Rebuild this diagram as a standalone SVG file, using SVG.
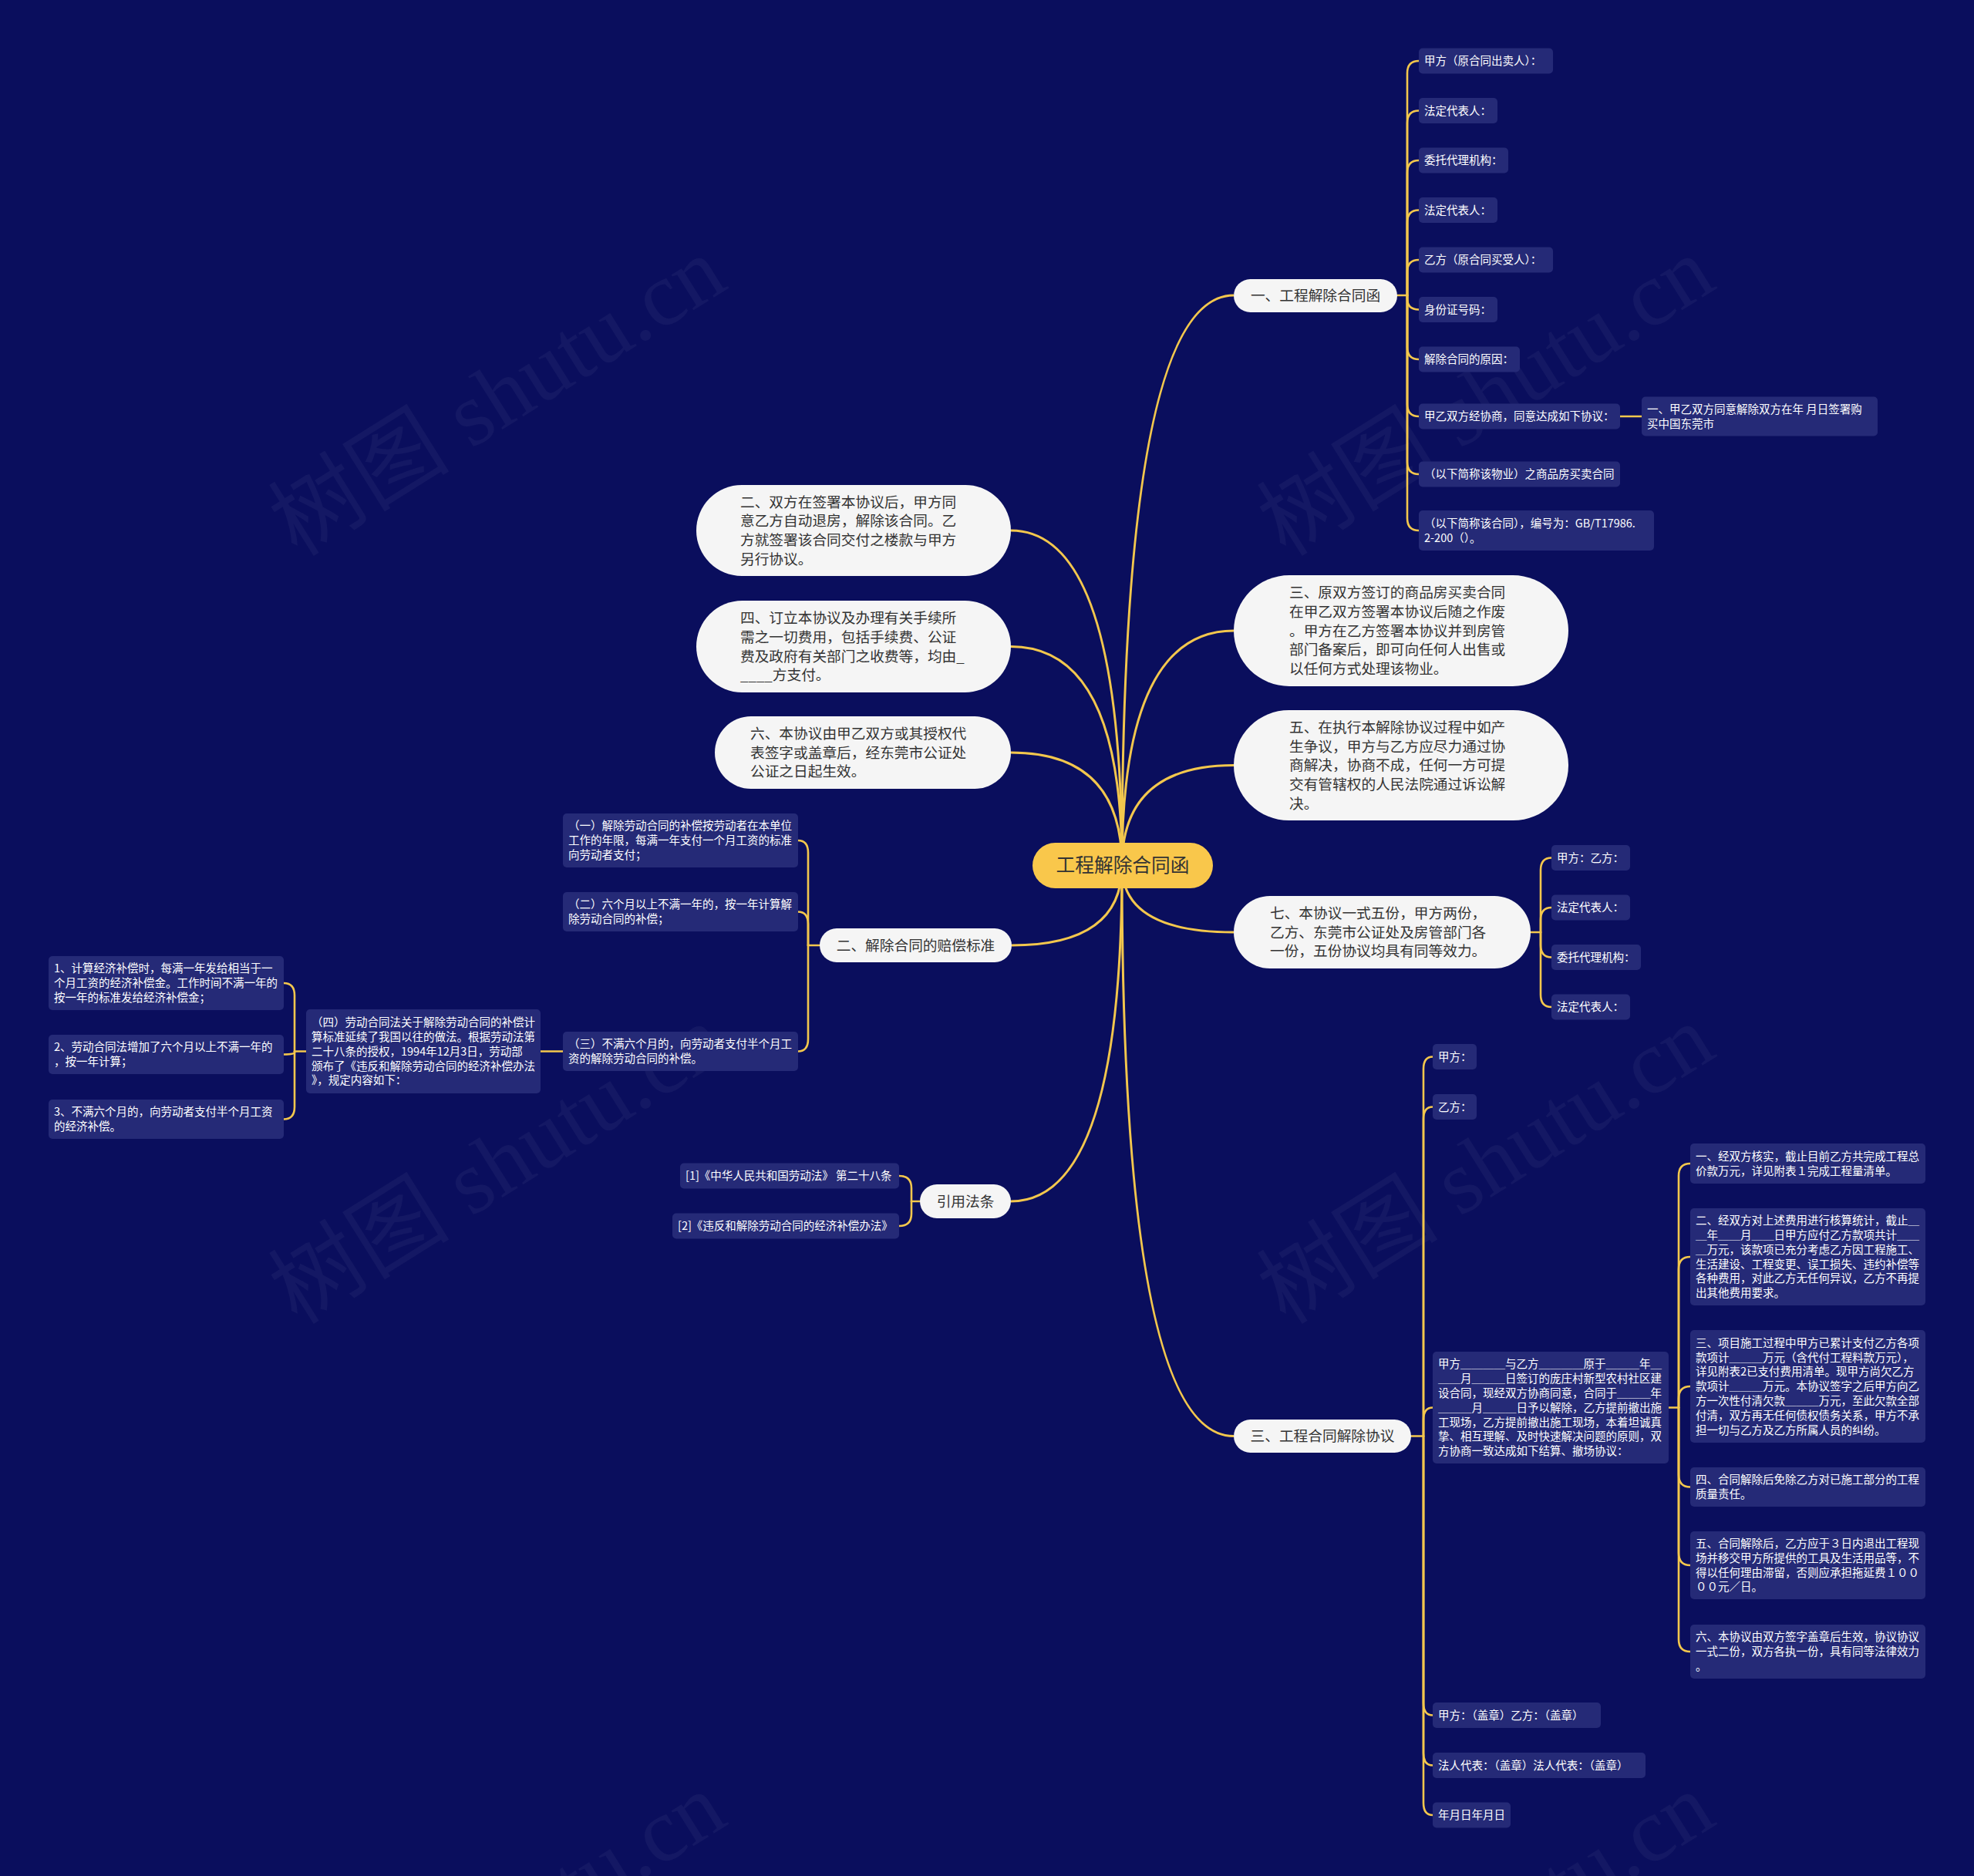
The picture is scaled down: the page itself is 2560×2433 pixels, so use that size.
<svg xmlns="http://www.w3.org/2000/svg" width="2560" height="2433" viewBox="0 0 2560 2433">
<style>
text{font-family:"Noto Sans CJK SC","Noto Sans",sans-serif}
.wm{font-family:"Liberation Serif","Noto Sans CJK SC",serif;font-size:118px;fill:#ffffff;fill-opacity:0.045}
.lk{fill:none;stroke:#F3C74D;stroke-width:2.6;stroke-linecap:round}
.mk{fill:none;stroke:#F3C74D;stroke-width:3}
.leaf rect{fill:#252A77}
.leaf text{fill:#ffffff;font-size:14.5px}
.main rect{fill:#F5F5F5}
.main text{fill:#333333;font-size:18.7px}
.c{text-anchor:middle}
</style>
<rect width="2560" height="2433" fill="#0A0E5D"/>
<g id="watermarks">
<text class="wm" transform="translate(645,514) rotate(-32)" text-anchor="middle" y="40">树图 shutu.cn</text>
<text class="wm" transform="translate(1927,514) rotate(-32)" text-anchor="middle" y="40">树图 shutu.cn</text>
<text class="wm" transform="translate(645,1510) rotate(-32)" text-anchor="middle" y="40">树图 shutu.cn</text>
<text class="wm" transform="translate(1927,1510) rotate(-32)" text-anchor="middle" y="40">树图 shutu.cn</text>
<text class="wm" transform="translate(645,2506) rotate(-32)" text-anchor="middle" y="40">树图 shutu.cn</text>
<text class="wm" transform="translate(1927,2506) rotate(-32)" text-anchor="middle" y="40">树图 shutu.cn</text>
</g>
<g id="connectors">
<path class="mk" d="M1455 1123 Q1455 383 1600 383"/>
<path class="mk" d="M1455 1123 Q1455 818 1600 818"/>
<path class="mk" d="M1455 1123 Q1455 992.5 1600 992.5"/>
<path class="mk" d="M1455 1123 Q1455 1209 1600 1209"/>
<path class="mk" d="M1455 1123 Q1455 1862.5 1600 1862.5"/>
<path class="mk" d="M1455 1123 Q1455 688 1311 688"/>
<path class="mk" d="M1455 1123 Q1455 838.5 1311 838.5"/>
<path class="mk" d="M1455 1123 Q1455 976 1311 976"/>
<path class="mk" d="M1455 1123 Q1455 1226 1312 1226"/>
<path class="mk" d="M1455 1123 Q1455 1558 1311 1558"/>
<path class="lk" d="M1812 383 H1825"/>
<path class="lk" d="M1825 383 V95 Q1825 79 1840 79"/>
<path class="lk" d="M1825 383 V159.5 Q1825 143.5 1840 143.5"/>
<path class="lk" d="M1825 383 V224 Q1825 208 1840 208"/>
<path class="lk" d="M1825 383 V288.5 Q1825 272.5 1840 272.5"/>
<path class="lk" d="M1825 383 V353 Q1825 337 1840 337"/>
<path class="lk" d="M1825 383 V387 Q1825 401.5 1840 401.5"/>
<path class="lk" d="M1825 383 V450 Q1825 466 1840 466"/>
<path class="lk" d="M1825 383 V524 Q1825 540 1840 540"/>
<path class="lk" d="M1825 383 V599 Q1825 615 1840 615"/>
<path class="lk" d="M1825 383 V672 Q1825 688 1840 688"/>
<path class="lk" d="M2101 540 H2129"/>
<path class="lk" d="M1985 1209 H1998"/>
<path class="lk" d="M1998 1209 V1128.5 Q1998 1112.5 2012 1112.5"/>
<path class="lk" d="M1998 1209 V1193 Q1998 1177 2012 1177"/>
<path class="lk" d="M1998 1209 V1225.5 Q1998 1241.5 2012 1241.5"/>
<path class="lk" d="M1998 1209 V1290 Q1998 1306 2012 1306"/>
<path class="lk" d="M1830 1862.5 H1846"/>
<path class="lk" d="M1846 1862.5 V1386.5 Q1846 1370.5 1858 1370.5"/>
<path class="lk" d="M1846 1862.5 V1451.5 Q1846 1435.5 1858 1435.5"/>
<path class="lk" d="M1846 1862.5 V1841.5 Q1846 1825.5 1858 1825.5"/>
<path class="lk" d="M1846 1862.5 V2208.5 Q1846 2224.5 1858 2224.5"/>
<path class="lk" d="M1846 1862.5 V2273.5 Q1846 2289.5 1858 2289.5"/>
<path class="lk" d="M1846 1862.5 V2338 Q1846 2354 1858 2354"/>
<path class="lk" d="M2164 1825.5 H2177"/>
<path class="lk" d="M2177 1825.5 V1525 Q2177 1509 2192 1509"/>
<path class="lk" d="M2177 1825.5 V1646 Q2177 1630 2192 1630"/>
<path class="lk" d="M2177 1825.5 V1814 Q2177 1798 2192 1798"/>
<path class="lk" d="M2177 1825.5 V1912.5 Q2177 1928.5 2192 1928.5"/>
<path class="lk" d="M2177 1825.5 V2014 Q2177 2030 2192 2030"/>
<path class="lk" d="M2177 1825.5 V2126 Q2177 2142 2192 2142"/>
<path class="lk" d="M1063 1226 H1048"/>
<path class="lk" d="M1048 1226 V1106 Q1048 1090 1035 1090"/>
<path class="lk" d="M1048 1226 V1198.5 Q1048 1182.5 1035 1182.5"/>
<path class="lk" d="M1048 1226 V1347.5 Q1048 1363.5 1035 1363.5"/>
<path class="lk" d="M730 1363.5 H701"/>
<path class="lk" d="M397 1363.5 H382"/>
<path class="lk" d="M382 1363.5 V1291 Q382 1275 368 1275"/>
<path class="lk" d="M382 1363.5 V1365 Q382 1367.5 368 1367.5"/>
<path class="lk" d="M382 1363.5 V1435.5 Q382 1451.5 368 1451.5"/>
<path class="lk" d="M1193 1558 H1182"/>
<path class="lk" d="M1182 1558 V1541 Q1182 1525 1166 1525"/>
<path class="lk" d="M1182 1558 V1574 Q1182 1590 1166 1590"/>
</g>
<g id="root">
<rect x="1339" y="1093" width="234" height="59" rx="29.5" fill="#F9C74B"/>
<text x="1456" y="1131.4" text-anchor="middle" font-size="24.7" fill="#333333">工程解除合同函</text>
</g>
<g id="n1" class="main"><rect x="1600" y="362" width="212" height="43" rx="21.5"/><text class="c" x="1706" y="390.2">一、工程解除合同函</text></g>
<g id="n1-1" class="leaf"><rect x="1840" y="62.5" width="174" height="33" rx="5"/><text x="1847" y="84.2">甲方（原合同出卖人）：</text></g>
<g id="n1-2" class="leaf"><rect x="1840" y="127" width="102" height="33" rx="5"/><text x="1847" y="148.7">法定代表人：</text></g>
<g id="n1-3" class="leaf"><rect x="1840" y="191.5" width="116" height="33" rx="5"/><text x="1847" y="213.2">委托代理机构：</text></g>
<g id="n1-4" class="leaf"><rect x="1840" y="256" width="102" height="33" rx="5"/><text x="1847" y="277.7">法定代表人：</text></g>
<g id="n1-5" class="leaf"><rect x="1840" y="320.5" width="174" height="33" rx="5"/><text x="1847" y="342.2">乙方（原合同买受人）：</text></g>
<g id="n1-6" class="leaf"><rect x="1840" y="385" width="102" height="33" rx="5"/><text x="1847" y="406.7">身份证号码：</text></g>
<g id="n1-7" class="leaf"><rect x="1840" y="449.5" width="131" height="33" rx="5"/><text x="1847" y="471.2">解除合同的原因：</text></g>
<g id="n1-8" class="leaf"><rect x="1840" y="523.5" width="261" height="33" rx="5"/><text x="1847" y="545.2">甲乙双方经协商，同意达成如下协议：</text></g>
<g id="n1-8-1" class="leaf"><rect x="2129" y="514.5" width="306" height="51" rx="5"/><text x="2136" y="535.8">一、甲乙双方同意解除双方在年 月日签署购<tspan x="2136" y="554.6">买中国东莞市</tspan></text></g>
<g id="n1-9" class="leaf"><rect x="1840" y="598.5" width="261" height="33" rx="5"/><text x="1847" y="620.2">（以下简称该物业）之商品房买卖合同</text></g>
<g id="n1-10" class="leaf"><rect x="1840" y="662" width="305" height="52" rx="5"/><text x="1847" y="683.8">（以下简称该合同），编号为：GB/T17986.<tspan x="1847" y="702.6">2-200（）。</tspan></text></g>
<g id="n3" class="main"><rect x="1600" y="746" width="434" height="144" rx="72"/><text x="1672" y="775.3">三、原双方签订的商品房买卖合同<tspan x="1672" y="800">在甲乙双方签署本协议后随之作废</tspan><tspan x="1672" y="824.7">。甲方在乙方签署本协议并到房管</tspan><tspan x="1672" y="849.4">部门备案后，即可向任何人出售或</tspan><tspan x="1672" y="874.1">以任何方式处理该物业。</tspan></text></g>
<g id="n5" class="main"><rect x="1600" y="921" width="434" height="143" rx="71.5"/><text x="1672" y="949.8">五、在执行本解除协议过程中如产<tspan x="1672" y="974.5">生争议，甲方与乙方应尽力通过协</tspan><tspan x="1672" y="999.2">商解决，协商不成，任何一方可提</tspan><tspan x="1672" y="1023.9">交有管辖权的人民法院通过诉讼解</tspan><tspan x="1672" y="1048.6">决。</tspan></text></g>
<g id="n7" class="main"><rect x="1600" y="1162" width="385" height="94" rx="47"/><text x="1647" y="1191">七、本协议一式五份，甲方两份，<tspan x="1647" y="1215.7">乙方、东莞市公证处及房管部门各</tspan><tspan x="1647" y="1240.4">一份，五份协议均具有同等效力。</tspan></text></g>
<g id="n7-1" class="leaf"><rect x="2012" y="1096" width="102" height="33" rx="5"/><text x="2019" y="1117.7">甲方：乙方：</text></g>
<g id="n7-2" class="leaf"><rect x="2012" y="1160.5" width="102" height="33" rx="5"/><text x="2019" y="1182.2">法定代表人：</text></g>
<g id="n7-3" class="leaf"><rect x="2012" y="1225" width="116" height="33" rx="5"/><text x="2019" y="1246.7">委托代理机构：</text></g>
<g id="n7-4" class="leaf"><rect x="2012" y="1289.5" width="102" height="33" rx="5"/><text x="2019" y="1311.2">法定代表人：</text></g>
<g id="n8" class="main"><rect x="1600" y="1841" width="230" height="43" rx="21.5"/><text class="c" x="1715" y="1869.2">三、工程合同解除协议</text></g>
<g id="n8-1" class="leaf"><rect x="1858" y="1354" width="57" height="33" rx="5"/><text x="1865" y="1375.7">甲方：</text></g>
<g id="n8-2" class="leaf"><rect x="1858" y="1419" width="57" height="33" rx="5"/><text x="1865" y="1440.7">乙方：</text></g>
<g id="n8-3" class="leaf"><rect x="1858" y="1753" width="306" height="145" rx="5"/><text x="1865" y="1774.3">甲方＿＿＿＿与乙方＿＿＿＿原于＿＿＿年＿<tspan x="1865" y="1793.1">＿＿月＿＿＿日签订的庞庄村新型农村社区建</tspan><tspan x="1865" y="1811.9">设合同，现经双方协商同意，合同于＿＿＿年</tspan><tspan x="1865" y="1830.7">＿＿＿月＿＿＿日予以解除，乙方提前撤出施</tspan><tspan x="1865" y="1849.5">工现场，乙方提前撤出施工现场，本着坦诚真</tspan><tspan x="1865" y="1868.3">挚、相互理解、及时快速解决问题的原则，双</tspan><tspan x="1865" y="1887.1">方协商一致达成如下结算、撤场协议：</tspan></text></g>
<g id="n8-3-1" class="leaf"><rect x="2192" y="1483" width="305" height="52" rx="5"/><text x="2199" y="1504.8">一、经双方核实，截止目前乙方共完成工程总<tspan x="2199" y="1523.6">价款万元，详见附表１完成工程量清单。</tspan></text></g>
<g id="n8-3-2" class="leaf"><rect x="2192" y="1567" width="305" height="126" rx="5"/><text x="2199" y="1588.2">二、经双方对上述费用进行核算统计，截止＿<tspan x="2199" y="1607">＿年＿＿月＿＿日甲方应付乙方款项共计＿＿</tspan><tspan x="2199" y="1625.8">＿万元，该款项已充分考虑乙方因工程施工、</tspan><tspan x="2199" y="1644.6">生活建设、工程变更、误工损失、违约补偿等</tspan><tspan x="2199" y="1663.4">各种费用，对此乙方无任何异议，乙方不再提</tspan><tspan x="2199" y="1682.2">出其他费用要求。</tspan></text></g>
<g id="n8-3-3" class="leaf"><rect x="2192" y="1725" width="305" height="146" rx="5"/><text x="2199" y="1746.8">三、项目施工过程中甲方已累计支付乙方各项<tspan x="2199" y="1765.6">款项计＿＿＿万元（含代付工程料款万元），</tspan><tspan x="2199" y="1784.4">详见附表2已支付费用清单。现甲方尚欠乙方</tspan><tspan x="2199" y="1803.2">款项计＿＿＿万元。本协议签字之后甲方向乙</tspan><tspan x="2199" y="1822">方一次性付清欠款＿＿＿万元，至此欠款全部</tspan><tspan x="2199" y="1840.8">付清，双方再无任何债权债务关系，甲方不承</tspan><tspan x="2199" y="1859.6">担一切与乙方及乙方所属人员的纠纷。</tspan></text></g>
<g id="n8-3-4" class="leaf"><rect x="2192" y="1903" width="305" height="51" rx="5"/><text x="2199" y="1924.3">四、合同解除后免除乙方对已施工部分的工程<tspan x="2199" y="1943.1">质量责任。</tspan></text></g>
<g id="n8-3-5" class="leaf"><rect x="2192" y="1986" width="305" height="88" rx="5"/><text x="2199" y="2007">五、合同解除后，乙方应于３日内退出工程现<tspan x="2199" y="2025.8">场并移交甲方所提供的工具及生活用品等，不</tspan><tspan x="2199" y="2044.6">得以任何理由滞留，否则应承担拖延费１００</tspan><tspan x="2199" y="2063.4">００元／日。</tspan></text></g>
<g id="n8-3-6" class="leaf"><rect x="2192" y="2107" width="305" height="70" rx="5"/><text x="2199" y="2128.4">六、本协议由双方签字盖章后生效，协议协议<tspan x="2199" y="2147.2">一式二份，双方各执一份，具有同等法律效力</tspan><tspan x="2199" y="2166">。</tspan></text></g>
<g id="n8-4" class="leaf"><rect x="1858" y="2208" width="218" height="33" rx="5"/><text x="1865" y="2229.7">甲方：（盖章）乙方：（盖章）</text></g>
<g id="n8-5" class="leaf"><rect x="1858" y="2273" width="276" height="33" rx="5"/><text x="1865" y="2294.7">法人代表：（盖章）法人代表：（盖章）</text></g>
<g id="n8-6" class="leaf"><rect x="1858" y="2337.5" width="101" height="33" rx="5"/><text x="1865" y="2359.2">年月日年月日</text></g>
<g id="n2" class="main"><rect x="903" y="629" width="408" height="118" rx="59"/><text x="960" y="657.7">二、双方在签署本协议后，甲方同<tspan x="960" y="682.4">意乙方自动退房，解除该合同。乙</tspan><tspan x="960" y="707.1">方就签署该合同交付之楼款与甲方</tspan><tspan x="960" y="731.8">另行协议。</tspan></text></g>
<g id="n4" class="main"><rect x="903" y="779" width="408" height="119" rx="59.5"/><text x="960" y="808.2">四、订立本协议及办理有关手续所<tspan x="960" y="832.9">需之一切费用，包括手续费、公证</tspan><tspan x="960" y="857.6">费及政府有关部门之收费等，均由_</tspan><tspan x="960" y="882.3">____方支付。</tspan></text></g>
<g id="n6" class="main"><rect x="927" y="929" width="384" height="94" rx="47"/><text x="973" y="958">六、本协议由甲乙双方或其授权代<tspan x="973" y="982.7">表签字或盖章后，经东莞市公证处</tspan><tspan x="973" y="1007.4">公证之日起生效。</tspan></text></g>
<g id="n9" class="main"><rect x="1063" y="1204" width="249" height="44" rx="22"/><text class="c" x="1187.5" y="1232.7">二、解除合同的赔偿标准</text></g>
<g id="n9-1" class="leaf"><rect x="730" y="1055" width="305" height="70" rx="5"/><text x="737" y="1076.4">（一）解除劳动合同的补偿按劳动者在本单位<tspan x="737" y="1095.2">工作的年限，每满一年支付一个月工资的标准</tspan><tspan x="737" y="1114">向劳动者支付；</tspan></text></g>
<g id="n9-2" class="leaf"><rect x="730" y="1157" width="305" height="51" rx="5"/><text x="737" y="1178.3">（二）六个月以上不满一年的，按一年计算解<tspan x="737" y="1197.1">除劳动合同的补偿；</tspan></text></g>
<g id="n9-3" class="leaf"><rect x="730" y="1338" width="305" height="51" rx="5"/><text x="737" y="1359.3">（三）不满六个月的，向劳动者支付半个月工<tspan x="737" y="1378.1">资的解除劳动合同的补偿。</tspan></text></g>
<g id="n9-3-1" class="leaf"><rect x="397" y="1309" width="304" height="109" rx="5"/><text x="404" y="1331.1">（四）劳动合同法关于解除劳动合同的补偿计<tspan x="404" y="1349.9">算标准延续了我国以往的做法。根据劳动法第</tspan><tspan x="404" y="1368.7">二十八条的授权，1994年12月3日，劳动部</tspan><tspan x="404" y="1387.5">颁布了《违反和解除劳动合同的经济补偿办法</tspan><tspan x="404" y="1406.3">》，规定内容如下：</tspan></text></g>
<g id="n9-3-1-1" class="leaf"><rect x="63" y="1240" width="305" height="70" rx="5"/><text x="70" y="1261.4">1、计算经济补偿时，每满一年发给相当于一<tspan x="70" y="1280.2">个月工资的经济补偿金。工作时间不满一年的</tspan><tspan x="70" y="1299">按一年的标准发给经济补偿金；</tspan></text></g>
<g id="n9-3-1-2" class="leaf"><rect x="63" y="1342" width="305" height="51" rx="5"/><text x="70" y="1363.3">2、劳动合同法增加了六个月以上不满一年的<tspan x="70" y="1382.1">，按一年计算；</tspan></text></g>
<g id="n9-3-1-3" class="leaf"><rect x="63" y="1426" width="305" height="51" rx="5"/><text x="70" y="1447.3">3、不满六个月的，向劳动者支付半个月工资<tspan x="70" y="1466.1">的经济补偿。</tspan></text></g>
<g id="n10" class="main"><rect x="1193" y="1536" width="118" height="44" rx="22"/><text class="c" x="1252" y="1564.7">引用法条</text></g>
<g id="n10-1" class="leaf"><rect x="882" y="1508.5" width="284" height="33" rx="5"/><text x="889" y="1530.2">[1]《中华人民共和国劳动法》 第二十八条</text></g>
<g id="n10-2" class="leaf"><rect x="872" y="1573.5" width="294" height="33" rx="5"/><text x="879" y="1595.2">[2]《违反和解除劳动合同的经济补偿办法》</text></g>
</svg>
